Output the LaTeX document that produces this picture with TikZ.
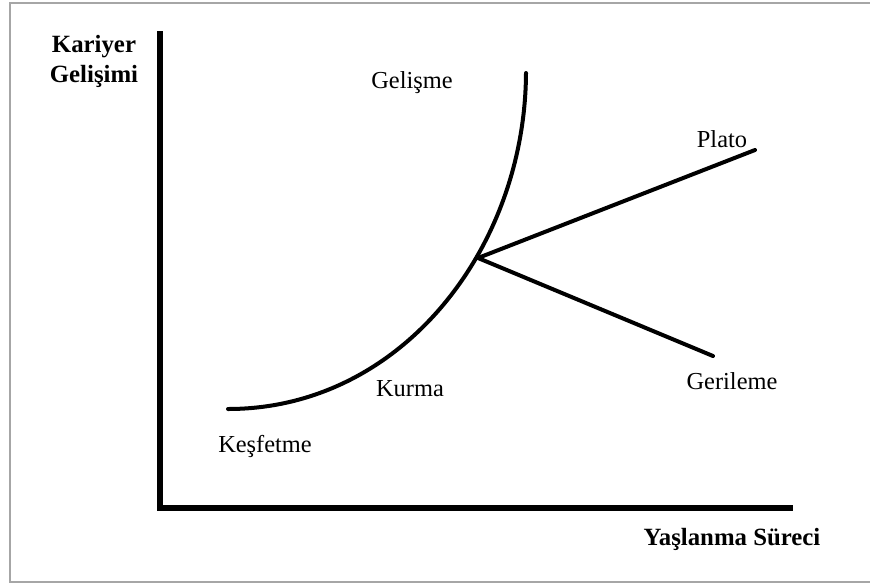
\documentclass[tikz,border=0pt]{standalone}
\usepackage{fontspec}
\setmainfont{Liberation Serif}
\usepackage{tikz}
\usetikzlibrary{calc,positioning}

\begin{document}
\begin{tikzpicture}[x=0.75pt,y=-0.75pt,
    lbl/.style={inner sep=0pt,font=\fontsize{18.3}{22}\selectfont},
    boldlbl/.style={lbl,font=\fontsize{18.6}{22.5}\selectfont\bfseries,align=center},
    axis/.style={line width=3.8pt,line cap=rect},
    stage/.style={line width=3pt,line cap=round}]
\useasboundingbox (0,0) rectangle (870,586);
% frame
\draw[gray!70,line width=1.5pt] (872,3) -- (10,3) -- (10,582) -- (872,582);
% axes
\coordinate (yTop) at (160,34);
\coordinate (origin) at (160,508);
\coordinate (xEnd) at (790,508);
\draw[axis] (yTop) -- (origin) -- (xEnd);
\node[boldlbl] (ylabel) at (94,61) {Kariyer\\Gelişimi};
\node[boldlbl] (xlabel) at (732,539) {Yaşlanma Süreci};
% career curve
\coordinate (start) at (228,409);
\coordinate (top) at (526,73);
\coordinate (junction) at (478,258);
\coordinate (platoEnd) at (755,150);
\coordinate (gerEnd) at (713,356);
\draw[stage] (start) .. controls (400,409) and (525,250) .. (top);
\draw[stage] (junction) -- (platoEnd);
\draw[stage] (junction) -- (gerEnd);
% stage labels
\node[lbl] (kesfetme) at (265,446) {Keşfetme};
\node[lbl] (kurma) at (410,389) {Kurma};
\node[lbl] (gelisme) at (412,83) {Gelişme};
\node[lbl] (plato) at (722,139) {Plato};
\node[lbl] (gerileme) at (732,381) {Gerileme};
\end{tikzpicture}
\end{document}
